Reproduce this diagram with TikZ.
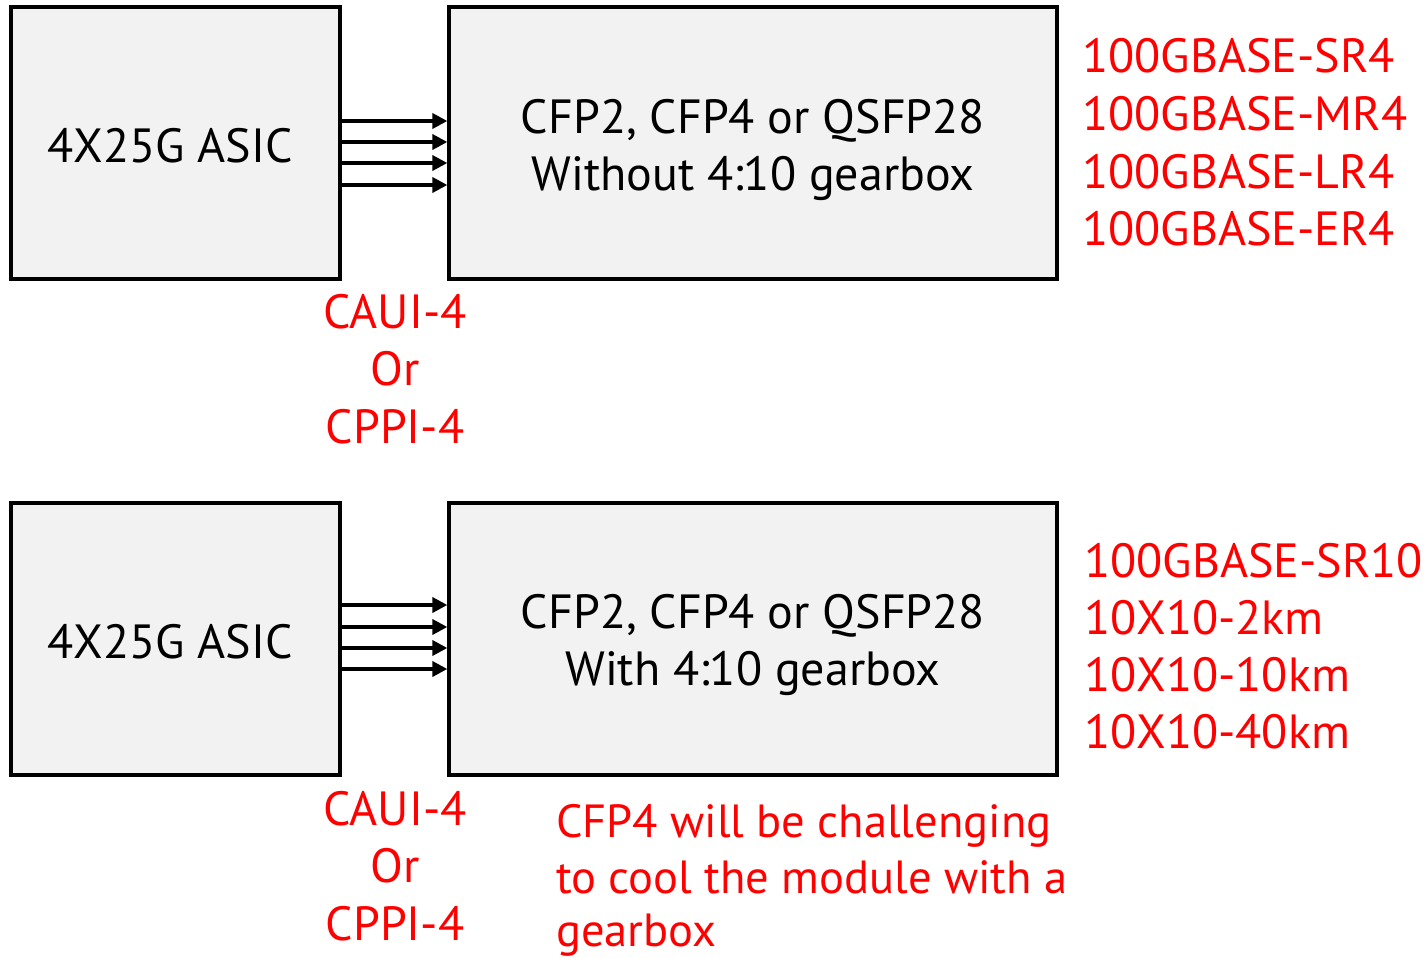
\documentclass[tikz,border=0pt]{standalone}
\usepackage{fontspec}
\setmainfont{PT Sans}
\usetikzlibrary{arrows.meta}
\definecolor{boxfill}{HTML}{F2F2F2}
\definecolor{txtred}{HTML}{FF0000}
\begin{document}
\begin{tikzpicture}[x=1pt,y=-1pt,
  blk/.style={draw=black,line width=3.3pt,fill=boxfill,inner sep=0pt},
  lbl/.style={font=\fontsize{48}{57}\selectfont,inner sep=0pt,anchor=base},
  lblw/.style={lbl,anchor=base west},
  redtxt/.style={text=txtred},
  lane/.style={line width=3.6pt,-{Triangle[length=15pt,width=15pt]}}
]
\useasboundingbox (0,0) rectangle (1428,958);
% top row
\node[blk,minimum width=329pt,minimum height=272pt] (asicA) at (175.5,143) {};
\node[blk,minimum width=608pt,minimum height=272pt] (modA) at (753,143) {};
\foreach \yy in {121,142,163,185}{
  \draw[lane] (asicA.east |- 0,\yy) -- (modA.west |- 0,\yy);
}
\node[lbl] (asicAt) at (170,162) {4X25G ASIC};
\node[lbl] (modAt1) at (753,133) {CFP2, CFP4 or QSFP28};
\node[lbl] (modAt2) at (753,190) {Without 4:10 gearbox};
\node[lblw,redtxt] (stdA1) at (1082,73) {100GBASE-SR4};
\node[lblw,redtxt] (stdA2) at (1082,130.5) {100GBASE-MR4};
\node[lblw,redtxt] (stdA3) at (1082,188) {100GBASE-LR4};
\node[lblw,redtxt] (stdA4) at (1082,245.5) {100GBASE-ER4};
\node[lbl,redtxt] (ifA1) at (395,328) {CAUI-4};
\node[lbl,redtxt] (ifA2) at (395,385) {Or};
\node[lbl,redtxt] (ifA3) at (395,443) {CPPI-4};
% bottom row
\node[blk,minimum width=329pt,minimum height=272pt] (asicB) at (175.5,639) {};
\node[blk,minimum width=608pt,minimum height=272pt] (modB) at (753,639) {};
\foreach \yy in {605,627,648,669}{
  \draw[lane] (asicB.east |- 0,\yy) -- (modB.west |- 0,\yy);
}
\node[lbl] (asicBt) at (170,658) {4X25G ASIC};
\node[lbl] (modBt1) at (753,628) {CFP2, CFP4 or QSFP28};
\node[lbl] (modBt2) at (753,685) {With 4:10 gearbox};
\node[lblw,redtxt] (stdB1) at (1084,577) {100GBASE-SR10};
\node[lblw,redtxt] (stdB2) at (1084,634) {10X10-2km};
\node[lblw,redtxt] (stdB3) at (1084,691) {10X10-10km};
\node[lblw,redtxt] (stdB4) at (1084,748) {10X10-40km};
\node[lbl,redtxt] (ifB1) at (395,825) {CAUI-4};
\node[lbl,redtxt] (ifB2) at (395,882) {Or};
\node[lbl,redtxt] (ifB3) at (395,940) {CPPI-4};
\node[lblw,redtxt,font=\fontsize{46.5}{57}\selectfont] (note1) at (556,837) {CFP4 will be challenging};
\node[lblw,redtxt,font=\fontsize{46.5}{57}\selectfont] (note2) at (556,893) {to cool the module with a};
\node[lblw,redtxt,font=\fontsize{46.5}{57}\selectfont] (note3) at (556,946) {gearbox};
\end{tikzpicture}
\end{document}
